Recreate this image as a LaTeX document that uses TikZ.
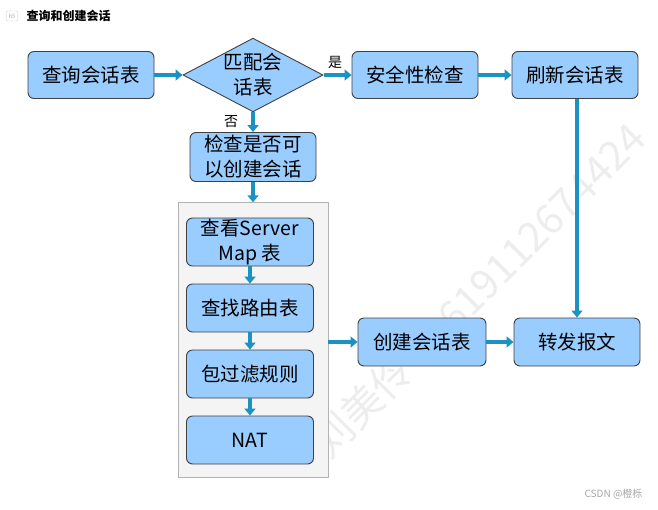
\documentclass[tikz,border=0pt]{standalone}
\usepackage{fontspec}
\setmainfont{Noto Sans CJK SC}
\usetikzlibrary{shapes.geometric,arrows.meta}
\definecolor{boxblue}{HTML}{99CCFF}
\definecolor{arrowblue}{HTML}{1C92C2}
\tikzset{
  box/.style={rectangle, rounded corners=6pt, draw=black!75, fill=boxblue, line width=0.9pt,
    minimum width=126pt, minimum height=47pt, align=center, inner sep=0pt,
    font=\fontsize{19.5}{25}\selectfont},
  flow/.style={-{Triangle[width=11pt,length=7pt]}, line width=4.5pt, draw=arrowblue}
}
\begin{document}
\begin{tikzpicture}[x=1pt,y=-1pt]
        \useasboundingbox (0,0) rectangle (658,509);
        % Watermark
        \node (wm) [text=gray!14, rotate=45, font=\fontsize{41}{45}\selectfont] at (478,290) {刘美伶 18619112674424};
        % Title
        \node (icon) [draw=gray!40, rounded corners=1pt, text=gray!60, inner sep=1pt, minimum width=11pt, minimum height=10pt, font=\fontsize{6}{6}\selectfont] at (12,16) {h5};
        \node (title) [anchor=west, font=\fontsize{12}{12}\selectfont\bfseries] at (23,16) {查询和创建会话};
        
        % Nodes
        \node (q1) [box] at (91,75) {查询会话表};
        \node (d1) [diamond, draw=black!75, fill=boxblue, line width=0.9pt, aspect=1.9, inner sep=0pt,
          minimum width=138pt, minimum height=70pt, align=center, font=\fontsize{19.5}{25}\selectfont] at (253,75) {匹配会\\话表};
        \node (s1) [box] at (415,75) {安全性检查};
        \node (r1) [box] at (575,75) {刷新会话表};
        \node (c1) [box, minimum height=49pt] at (253,157) {检查是否可\\以创建会话};
        \node (ct) [rectangle, draw=gray!60, fill=gray!9, minimum width=150pt, minimum height=275pt] at (253,340) {};
        \node (v1) [box, minimum width=127pt, minimum height=48pt] at (250,242) {查看Server\\Map 表};
        \node (v2) [box, minimum width=127pt, minimum height=48pt] at (250,308) {查找路由表};
        \node (v3) [box, minimum width=127pt, minimum height=48pt] at (250,374) {包过滤规则};
        \node (v4) [box, minimum width=127pt, minimum height=48pt] at (250,440) {NAT};
        \node (cs) [box, minimum width=128pt, minimum height=48pt] at (422,342) {创建会话表};
        \node (f1) [box, minimum height=48pt] at (577,342) {转发报文};
        
        % Labels
        \node (yes) [font=\fontsize{14}{14}\selectfont] at (335,62) {是};
        \node (no) [font=\fontsize{14}{14}\selectfont] at (231,122) {否};
        \node (csdn) [text=gray!70, font=\fontsize{10}{10}\selectfont, anchor=east] at (646,494) {CSDN @橙栎};
        
        % Directed Edges
        \draw[flow] (q1) -- (d1);
        \draw[flow] (d1) -- (s1);
        \draw[flow] (s1) -- (r1);
        \draw[flow] (d1) -- (c1);
        \draw[flow] (c1) -- (ct);
        \draw[flow] (v1) -- (v2);
        \draw[flow] (v2) -- (v3);
        \draw[flow] (v3) -- (v4);
        \draw[flow] (ct.east |- cs.west) -- (cs.west);
        \draw[flow] (cs) -- (f1);
        \draw[flow] (r1.south -| f1.north) -- (f1.north);
\end{tikzpicture}
\end{document}
